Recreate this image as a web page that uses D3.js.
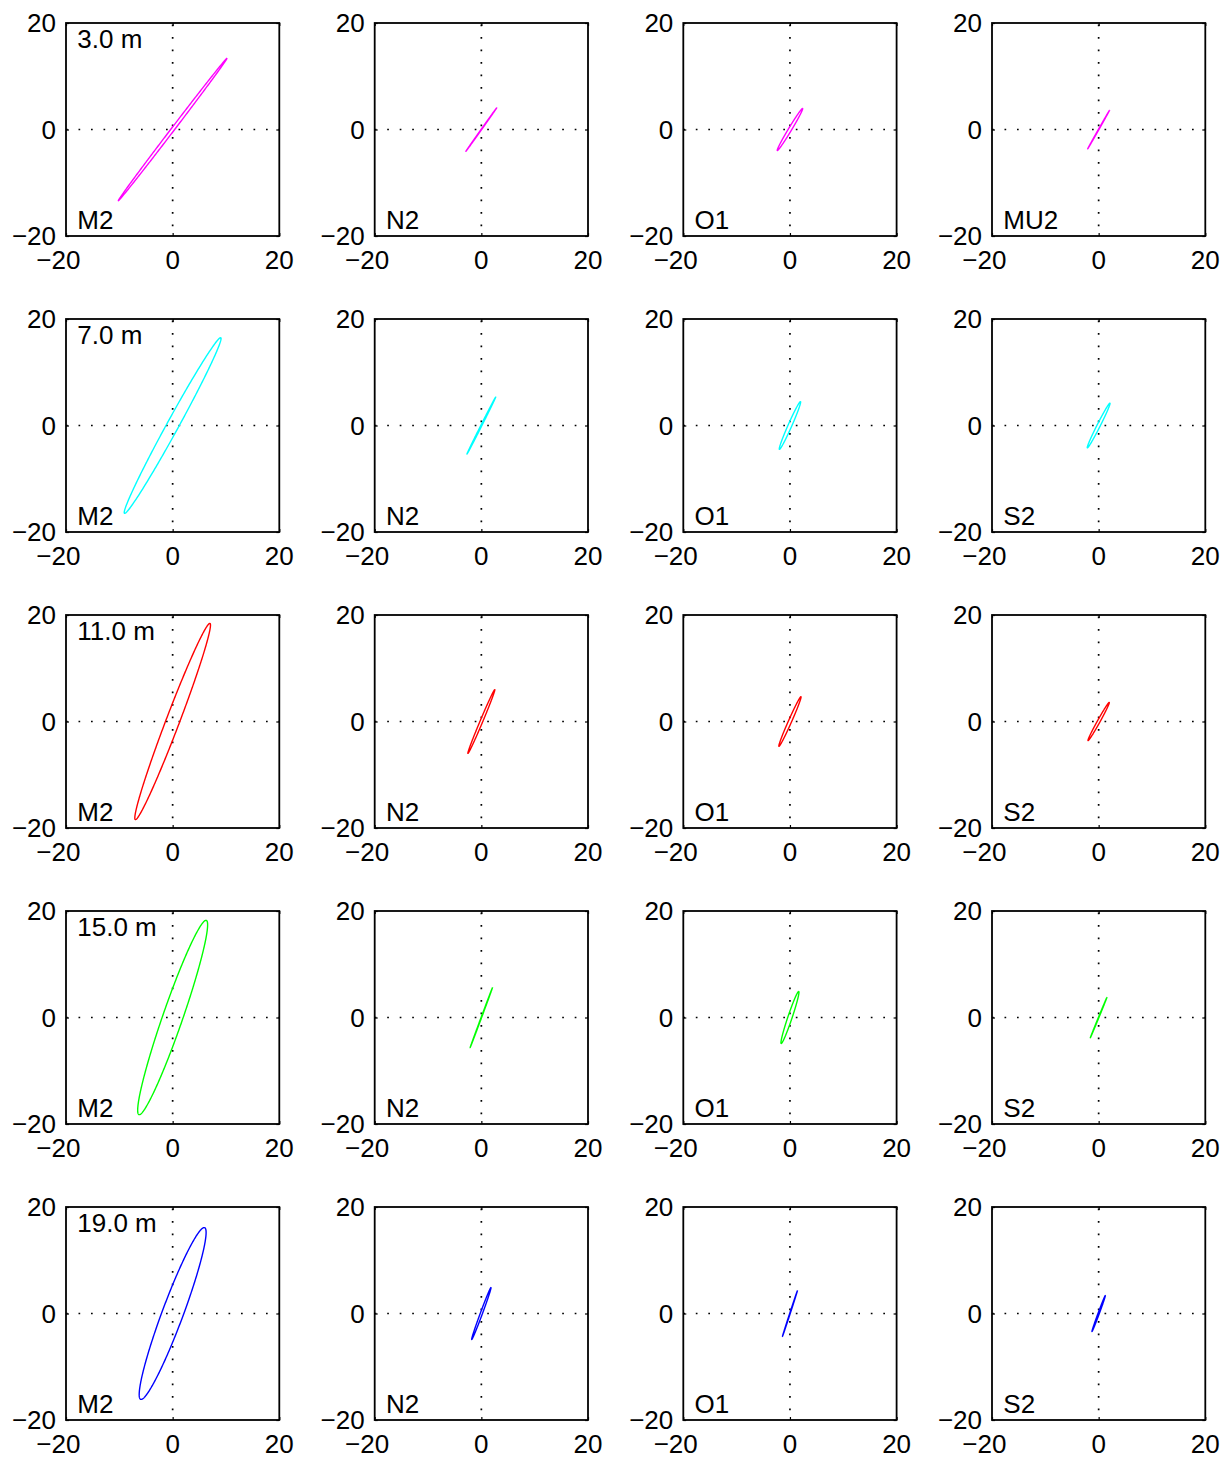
<!DOCTYPE html>
<html>
<head>
<meta charset="utf-8">
<script src="https://cdn.jsdelivr.net/npm/d3@7"></script>
<style>
  html, body { margin: 0; padding: 0; background: #ffffff; }
  svg { display: block; }
  text { font-family: "Liberation Sans", Arial, Helvetica, sans-serif; fill: #000; }
</style>
</head>
<body>
<svg id="chart" width="1223" height="1461"></svg>
<script>
// ---------------- data ----------------
const depthLabels = ["3.0 m", "7.0 m", "11.0 m", "15.0 m", "19.0 m"];
const rowColors = ["#ff00ff", "#00ffff", "#ff0000", "#00ff00", "#0000ff"];
const constituents = [
  ["M2", "N2", "O1", "MU2"],
  ["M2", "N2", "O1", "S2"],
  ["M2", "N2", "O1", "S2"],
  ["M2", "N2", "O1", "S2"],
  ["M2", "N2", "O1", "S2"]
];
// semi-major axis (cm/s), per depth row, per constituent column
const semiMajor = [
  [16.8, 5.0, 4.6, 4.15],
  [18.8, 6.0, 4.9, 4.7],
  [19.7, 6.5, 5.1, 4.1],
  [19.3, 6.0, 5.15, 4.1],
  [17.2, 5.2, 4.5, 3.6]
];
// semi-minor axis (cm/s)
const semiMinor = [
  [0.3, 0.05, 0.3, 0.05],
  [1.1, 0.1, 0.35, 0.3],
  [1.26, 0.25, 0.3, 0.25],
  [1.87, 0.05, 0.4, 0.05],
  [1.97, 0.2, 0.05, 0.12]
];
// inclination (degrees counter-clockwise from east)
const inclination = [
  [52.7, 54.7, 59.0, 60.5],
  [61.3, 63.3, 66.2, 63.2],
  [69.2, 67.2, 66.1, 61.0],
  [70.9, 69.6, 71.4, 67.7],
  [69.6, 69.7, 71.9, 69.7]
];
const axisDomain = [-20, 20];
const tickValues = [-20, 0, 20];

// ---------------- layout ----------------
const colLeft = [66, 374.7, 683.3, 992];
const rowTop = [23, 319, 615, 911, 1207];
const W = 213.3, H = 213;
const FONT = 26;

const svg = d3.select("#chart");
const x = d3.scaleLinear().domain(axisDomain).range([0, W]);
const y = d3.scaleLinear().domain(axisDomain).range([H, 0]);

function ellipsePoints(a, b, incDeg) {
  const th = incDeg * Math.PI / 180;
  const n = 361;
  return d3.range(n).map(i => {
    const t = 2 * Math.PI * i / (n - 1);
    const u = a * Math.cos(t), v = b * Math.sin(t);
    return [u * Math.cos(th) - v * Math.sin(th), u * Math.sin(th) + v * Math.cos(th)];
  });
}

const line = d3.line().x(d => x(d[0])).y(d => y(d[1]));
const fmtDigits = v => String(Math.abs(v));

depthLabels.forEach((depth, r) => {
  constituents[r].forEach((name, c) => {
    const g = svg.append("g").attr("transform", `translate(${colLeft[c]},${rowTop[r]})`);

    // dotted zero lines
    g.append("line")
      .attr("x1", x(0)).attr("x2", x(0)).attr("y1", 0).attr("y2", H)
      .attr("stroke", "#000").attr("stroke-width", 1.7)
      .attr("stroke-dasharray", "1.7,10.8").attr("stroke-dashoffset", -1.5);
    g.append("line")
      .attr("x1", 0).attr("x2", W).attr("y1", y(0)).attr("y2", y(0))
      .attr("stroke", "#000").attr("stroke-width", 1.7)
      .attr("stroke-dasharray", "1.7,10.8");

    // ticks (inward) through d3 axes, labels drawn separately
    const axes = [
      [d3.axisBottom(x), `translate(0,${H})`],
      [d3.axisTop(x), `translate(0,0)`],
      [d3.axisLeft(y), `translate(0,0)`],
      [d3.axisRight(y), `translate(${W},0)`]
    ];
    axes.forEach(([ax, tr]) => {
      const ag = g.append("g").attr("transform", tr)
        .call(ax.tickValues(tickValues).tickSize(-3).tickFormat(""));
      ag.select(".domain").remove();
      ag.selectAll(".tick line").attr("stroke", "#000").attr("stroke-width", 1.2);
    });

    // ellipse
    g.append("path")
      .datum(ellipsePoints(semiMajor[r][c], semiMinor[r][c], inclination[r][c]))
      .attr("d", line)
      .attr("fill", "none")
      .attr("stroke", rowColors[r])
      .attr("stroke-width", 1.4);

    // box
    g.append("rect")
      .attr("x", 0).attr("y", 0).attr("width", W).attr("height", H)
      .attr("fill", "none").attr("stroke", "#000").attr("stroke-width", 1.8);

    // x tick labels: digits centred on tick, minus hanging to the left
    tickValues.forEach(v => {
      const t = g.append("text")
        .attr("x", x(v)).attr("y", H + 32.5)
        .attr("text-anchor", "middle")
        .attr("font-size", FONT)
        .text(fmtDigits(v));
      if (v < 0) {
        const w = t.node().getComputedTextLength();
        g.append("text")
          .attr("x", x(v) - w / 2).attr("y", H + 32.5)
          .attr("text-anchor", "end")
          .attr("font-size", FONT)
          .text("\u2212");
      }
    });

    // y tick labels
    tickValues.forEach(v => {
      g.append("text")
        .attr("x", -10)
        .attr("y", y(v) + 9)
        .attr("text-anchor", "end")
        .attr("font-size", FONT)
        .text((v < 0 ? "\u2212" : "") + fmtDigits(v));
    });

    // depth label (first column only)
    if (c === 0) {
      g.append("text")
        .attr("x", 11.3).attr("y", 24.7)
        .attr("font-size", FONT)
        .text(depth);
    }
    // constituent label
    g.append("text")
      .attr("x", 11.3).attr("y", H - 6.7)
      .attr("font-size", FONT)
      .text(name);
  });
});
</script>
</body>
</html>
